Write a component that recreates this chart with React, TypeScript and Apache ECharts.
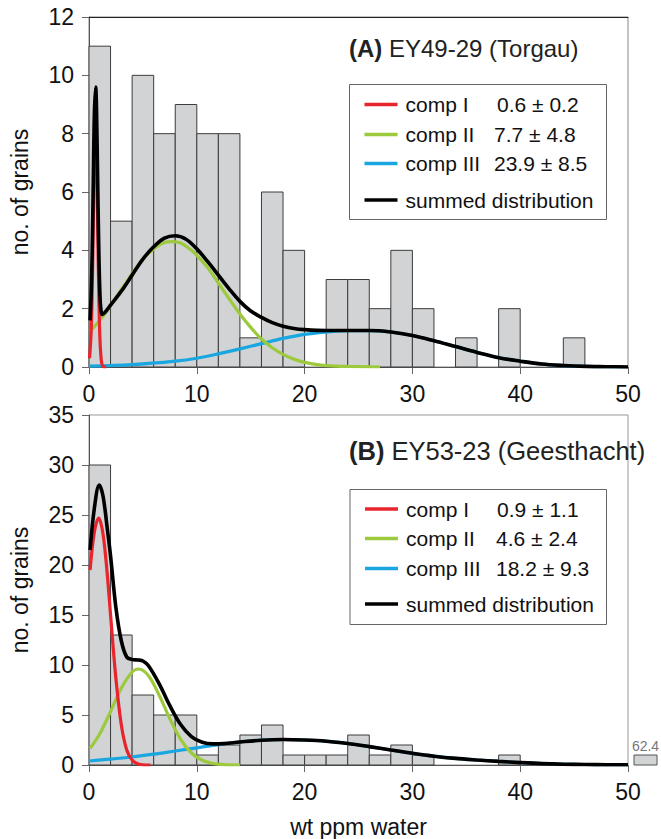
import React, { useEffect, useRef } from "react";
import * as echarts from "echarts";

// ---------- DATA ----------
const binWidth = 2;
const binStartsA = [0, 2, 4, 6, 8, 10, 12, 14, 16, 18, 20, 22, 24, 26, 28, 30, 32, 34, 36, 38, 40, 42, 44];
const countsA = [11, 5, 10, 8, 9, 8, 8, 1, 6, 4, 0, 3, 3, 2, 4, 2, 0, 1, 0, 2, 0, 0, 1];

const binStartsB = [0, 2, 4, 6, 8, 10, 12, 14, 16, 18, 20, 22, 24, 26, 28, 30, 32, 34, 36, 38];
const countsB = [30, 13, 7, 5, 5, 1, 2, 3, 4, 1, 1, 1, 3, 1, 2, 1, 0, 0, 0, 1];

const outlierLabelB = "62.4";
const outlierCountB = 1;

const compNames = ["comp I", "comp II", "comp III"];
const summedName = "summed distribution";
const compStatsA = ["0.6 ± 0.2", "7.7 ± 4.8", "23.9 ± 8.5"];
const compStatsB = ["0.9 ± 1.1", "4.6 ± 2.4", "18.2 ± 9.3"];

const titleA = { tag: "(A)", text: "EY49-29 (Torgau)" };
const titleB = { tag: "(B)", text: "EY53-23 (Geesthacht)" };
const xAxisName = "wt ppm water";
const yAxisName = "no. of grains";

// curves: [x, y]
const redA = [[0.05, 0.3], [0.2, 1.2], [0.3, 2.7], [0.4, 5.0], [0.5, 7.3], [0.6, 8.2], [0.7, 7.3], [0.8, 5.0], [0.9, 2.7], [1.0, 1.1], [1.1, 0.4], [1.2, 0.1], [1.4, 0], [1.6, 0]];
const greenA = [[0.1, 1.22], [1, 1.6], [2, 2.1], [3, 2.65], [4, 3.2], [5, 3.7], [6, 4.05], [7, 4.27], [7.7, 4.3], [8.5, 4.25], [9.5, 4.0], [10, 3.83], [11, 3.41], [12, 2.88], [13, 2.34], [14, 1.82], [15, 1.36], [16, 0.96], [17, 0.66], [18, 0.43], [19, 0.27], [20, 0.16], [21, 0.09], [22, 0.05], [24, 0.02], [27, 0]];
const blueA = [[0, 0.03], [4, 0.08], [8, 0.2], [10, 0.3], [12, 0.45], [14, 0.62], [16, 0.8], [18, 0.98], [20, 1.12], [22, 1.2], [24, 1.25], [26, 1.25], [28, 1.2], [30, 1.08], [32, 0.9], [34, 0.7], [36, 0.5], [38, 0.32], [40, 0.2], [42, 0.1], [44, 0.05], [46, 0.02], [48, 0.01], [50, 0]];
const sumA = [[0.1, 1.6], [0.2, 2.5], [0.3, 4.05], [0.4, 6.4], [0.5, 8.7], [0.62, 9.6], [0.7, 8.8], [0.8, 6.5], [0.9, 4.2], [1.0, 2.65], [1.1, 1.98], [1.25, 1.8], [1.5, 1.88], [2, 2.12], [3, 2.6], [4, 3.15], [5, 3.7], [6, 4.12], [7, 4.42], [8, 4.5], [9, 4.38], [10, 4.05], [11, 3.62], [12, 3.15], [13, 2.68], [14, 2.25], [15, 1.92], [16, 1.7], [17, 1.52], [18, 1.4], [19, 1.32], [20, 1.28], [22, 1.25], [24, 1.25], [26, 1.25], [28, 1.2], [30, 1.08], [32, 0.9], [34, 0.7], [36, 0.5], [38, 0.32], [40, 0.2], [42, 0.1], [44, 0.05], [46, 0.02], [48, 0.01], [50, 0]];

const redB = [[0.1, 19.5], [0.5, 23.3], [0.9, 24.7], [1.3, 23.1], [1.7, 19.0], [2.0, 15.0], [2.5, 8.6], [3.0, 4.0], [3.5, 1.5], [4.0, 0.5], [4.5, 0.12], [5.0, 0.02], [5.7, 0]];
const greenB = [[0.1, 1.66], [1, 3.12], [2, 5.34], [3, 7.69], [4, 9.3], [4.6, 9.6], [5.5, 8.95], [6.5, 7.0], [7.5, 4.63], [8.5, 2.57], [9.5, 1.2], [10.5, 0.47], [11.5, 0.15], [12.5, 0.04], [14, 0]];
const blueB = [[0, 0.4], [2, 0.58], [4, 0.8], [6, 1.08], [8, 1.4], [10, 1.72], [12, 2.04], [14, 2.3], [16, 2.48], [18.2, 2.55], [20, 2.5], [22, 2.38], [24, 2.15], [26, 1.84], [28, 1.5], [30, 1.17], [32, 0.88], [34, 0.66], [36, 0.5], [38, 0.36], [40, 0.24], [42, 0.14], [44, 0.08], [46, 0.05], [48, 0.03], [50, 0.02]];
const sumB = [[0.1, 21.5], [0.5, 25.7], [0.95, 28.0], [1.3, 26.9], [1.7, 23.6], [2.0, 20.9], [2.5, 15.7], [3.0, 12.4], [3.5, 10.8], [4.0, 10.55], [4.6, 10.5], [5.0, 10.4], [5.5, 9.95], [6.5, 8.14], [7.5, 5.93], [8.5, 4.05], [9.5, 2.84], [10.5, 2.27], [11.5, 2.11], [12.5, 2.14], [14, 2.3], [16, 2.48], [18, 2.55], [20, 2.5], [22, 2.38], [24, 2.15], [26, 1.84], [28, 1.5], [30, 1.17], [32, 0.88], [34, 0.66], [36, 0.5], [38, 0.36], [40, 0.24], [42, 0.14], [44, 0.08], [46, 0.05], [48, 0.03], [50, 0.02]];

// ---------- STYLE ----------
const FONT = "'Liberation Sans', Arial, sans-serif";
const C_RED = "#e8242c";
const C_GREEN = "#9dc93c";
const C_BLUE = "#1aa7e1";
const C_BLACK = "#000000";
const BAR_FILL = "#d1d3d4";
const BAR_STROKE = "#3c3c3c";

const barRender = (params: any, api: any) => {
  const v = api.value(2);
  if (!v) return null;
  const p0 = api.coord([api.value(0), v]);
  const p1 = api.coord([api.value(1), 0]);
  return {
    type: "rect",
    shape: { x: p0[0], y: p0[1], width: p1[0] - p0[0], height: p1[1] - p0[1] },
    style: { fill: BAR_FILL, stroke: BAR_STROKE, lineWidth: 1 },
  };
};

const outlierRender = (params: any, api: any) => {
  const p0 = api.coord([0, api.value(0)]);
  const p1 = api.coord([1, 0]);
  return {
    type: "group",
    children: [
      {
        type: "rect",
        shape: { x: p0[0], y: p0[1], width: p1[0] - p0[0], height: p1[1] - p0[1] },
        style: { fill: BAR_FILL, stroke: "#555", lineWidth: 1 },
      },
      {
        type: "text",
        style: {
          text: outlierLabelB,
          x: (p0[0] + p1[0]) / 2,
          y: p0[1] - 2,
          align: "center",
          verticalAlign: "bottom",
          fill: "#777",
          font: `14px ${FONT}`,
        },
      },
    ],
  };
};

function legendGraphic(box: { x: number; y: number; w: number; h: number }, rows: number[], stats: string[], valueX: number[]) {
  const colors = [C_RED, C_GREEN, C_BLUE, C_BLACK];
  const els: any[] = [
    {
      type: "rect",
      shape: { x: box.x, y: box.y, width: box.w, height: box.h },
      style: { fill: "#fff", stroke: "#666", lineWidth: 1 },
      z: 100,
    },
  ];
  rows.forEach((ry, i) => {
    els.push({
      type: "line",
      shape: { x1: box.x + 15, y1: ry, x2: box.x + 48, y2: ry },
      style: { stroke: colors[i], lineWidth: 3.5 },
      z: 101,
    });
    els.push({
      type: "text",
      style: {
        text: i < 3 ? compNames[i] : summedName,
        x: box.x + 56,
        y: ry,
        verticalAlign: "middle",
        fill: "#111",
        font: `21px ${FONT}`,
      },
      z: 101,
    });
    if (i < 3) {
      els.push({
        type: "text",
        style: {
          text: stats[i],
          x: valueX[i],
          y: ry,
          verticalAlign: "middle",
          fill: "#111",
          font: `21px ${FONT}`,
        },
        z: 101,
      });
    }
  });
  return els;
}

export default function App() {
  const ref = useRef<HTMLDivElement>(null);

  useEffect(() => {
    document.body.style.margin = "0";
    if (!ref.current) return;
    const chart = echarts.init(ref.current, null, { renderer: "svg" });

    const axisLabel = { fontSize: 23, color: "#111", fontFamily: FONT, margin: 15 };
    const axisLine = { show: true, lineStyle: { color: "#555", width: 1 } };
    const axisTick = { show: true, inside: false, length: 7, lineStyle: { color: "#666", width: 1 } };

    const lineSeries = (name: string, data: number[][], color: string, width: number, idx: number, z: number) => ({
      name,
      type: "line",
      xAxisIndex: idx,
      yAxisIndex: idx,
      data,
      smooth: 0.35,
      showSymbol: false,
      symbol: "none",
      lineStyle: { color, width },
      z,
    });

    const titleStyle = (size: number) => ({
      fontSize: size,
      fontWeight: "normal",
      color: "#222",
      fontFamily: FONT,
      rich: { b: { fontSize: size, fontWeight: "bold", color: "#222", fontFamily: FONT } },
    });

    const option: any = {
      animation: false,
      backgroundColor: "#fff",
      textStyle: { fontFamily: FONT },
      title: [
        { text: `{b|${titleA.tag}} ${titleA.text}`, left: 349, top: 36, padding: 0, textStyle: titleStyle(24) },
        { text: `{b|${titleB.tag}} ${titleB.text}`, left: 349, top: 438, padding: 0, textStyle: titleStyle(25.5) },
      ],
      grid: [
        { left: 88, top: 17, width: 540, height: 350, show: true, borderColor: "#888", borderWidth: 1, backgroundColor: "transparent" },
        { left: 88, top: 415, width: 540, height: 350, show: true, borderColor: "#999", borderWidth: 1, backgroundColor: "transparent" },
        { left: 634, top: 415, width: 23, height: 350 },
      ],
      xAxis: [
        { gridIndex: 0, type: "value", min: 0, max: 50, interval: 10, axisLabel, axisLine, axisTick, splitLine: { show: false } },
        { gridIndex: 1, type: "value", min: 0, max: 50, interval: 10, axisLabel, axisLine, axisTick, splitLine: { show: false },
          name: xAxisName, nameLocation: "middle", nameGap: 50, nameTextStyle: { fontSize: 23, color: "#111", fontFamily: FONT } },
        { gridIndex: 2, type: "value", min: 0, max: 1, show: false },
        { gridIndex: 0, type: "value", min: 0, max: 50, position: "top", axisLine: { show: true, lineStyle: { color: "#222", width: 1 } }, axisTick: { show: false }, axisLabel: { show: false }, splitLine: { show: false } },
      ],
      yAxis: [
        { gridIndex: 0, type: "value", min: 0, max: 12, interval: 2, axisLabel, axisLine, axisTick, splitLine: { show: false },
          name: yAxisName, nameLocation: "middle", nameGap: 58, nameRotate: 90, nameTextStyle: { fontSize: 23, color: "#111", fontFamily: FONT } },
        { gridIndex: 1, type: "value", min: 0, max: 35, interval: 5, axisLabel, axisLine, axisTick, splitLine: { show: false },
          name: yAxisName, nameLocation: "middle", nameGap: 58, nameRotate: 90, nameTextStyle: { fontSize: 23, color: "#111", fontFamily: FONT } },
        { gridIndex: 2, type: "value", min: 0, max: 35, show: false },
      ],
      series: [
        {
          type: "custom",
          name: "histogram A",
          xAxisIndex: 0,
          yAxisIndex: 0,
          renderItem: barRender,
          encode: { x: [0, 1], y: 2 },
          data: binStartsA.map((b, i) => [b, b + binWidth, countsA[i]]),
          z: 1,
        },
        {
          type: "custom",
          name: "histogram B",
          xAxisIndex: 1,
          yAxisIndex: 1,
          renderItem: barRender,
          encode: { x: [0, 1], y: 2 },
          data: binStartsB.map((b, i) => [b, b + binWidth, countsB[i]]),
          z: 1,
        },
        {
          type: "custom",
          name: "outlier B",
          xAxisIndex: 2,
          yAxisIndex: 2,
          renderItem: outlierRender,
          encode: { y: 0 },
          data: [[outlierCountB]],
          z: 1,
        },
        lineSeries(compNames[2], blueA, C_BLUE, 3.2, 0, 3),
        lineSeries(compNames[1], greenA, C_GREEN, 3.2, 0, 4),
        lineSeries(compNames[0], redA, C_RED, 3.2, 0, 5),
        lineSeries(summedName, sumA, C_BLACK, 3.6, 0, 6),
        lineSeries(compNames[2], blueB, C_BLUE, 3.2, 1, 3),
        lineSeries(compNames[1], greenB, C_GREEN, 3.2, 1, 4),
        lineSeries(compNames[0], redB, C_RED, 3.2, 1, 5),
        lineSeries(summedName, sumB, C_BLACK, 3.6, 1, 6),
      ],
      graphic: [
        ...legendGraphic({ x: 349.5, y: 84.5, w: 257, h: 135 }, [104.5, 134.5, 163.5, 200], compStatsA, [497, 494, 494]),
        ...legendGraphic({ x: 350, y: 489.5, w: 256.5, h: 135 }, [509, 538.5, 568.5, 604], compStatsB, [497, 496, 496]),
      ],
    };

    chart.setOption(option);
    return () => chart.dispose();
  }, []);

  return <div ref={ref} style={{ width: 661, height: 839 }} />;
}
